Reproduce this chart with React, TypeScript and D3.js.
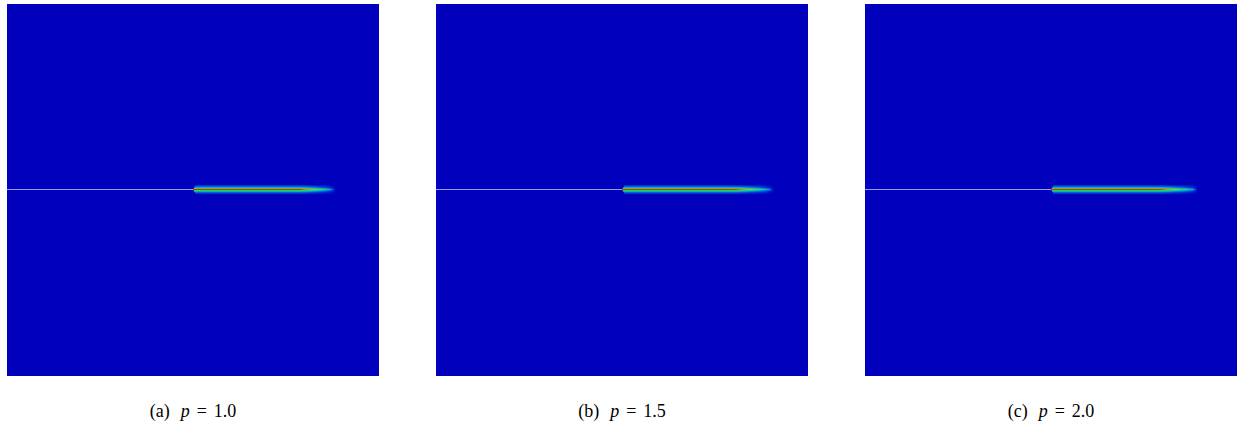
import React from "react";
import * as d3 from "d3";

// Crack-path damage profiles for three values of p.
const panelLabels = ["(a)", "(b)", "(c)"];
const pValues = [1.0, 1.5, 2.0];

// Normalised domain coordinate of the crack line and the notch tip.
const crackY = 0.498;
const notchTipX = 0.5;

// Peak damage along the crack path, sampled at the positions below.
const damageLevels = [1.0, 1.0, 0.85, 0.68, 0.5, 0.3, 0.0];
const profileA = [0.5, 0.788, 0.81, 0.833, 0.85, 0.868, 0.884];
const profileB = [0.5, 0.804, 0.828, 0.852, 0.872, 0.892, 0.908];
const profileC = [0.5, 0.793, 0.817, 0.841, 0.862, 0.882, 0.894];
const profiles = [profileA, profileB, profileC];

const W = 1239;
const H = 432;
const size = 372;
const lefts = [7, 436, 865];
const top = 4;
const rowOffsets = d3.range(-4, 5);

const colorStops = [0, 0.12, 0.28, 0.42, 0.55, 0.75, 0.9, 1];
const colorRange = ["#0000bd", "#0040d8", "#00a8e0", "#10c8a0", "#38d038", "#a8c810", "#e88000", "#d83000"];
const damageColor = d3
  .scaleLinear<string>()
  .domain(colorStops)
  .range(colorRange)
  .interpolate(d3.interpolateRgb)
  .clamp(true);

// Decay of damage away from the crack centreline (in pixels).
const falloff = (dy: number) => Math.exp(-Math.abs(dy) / 1.7);

function Panel({ idx }: { idx: number }) {
  const x = d3.scaleLinear().domain([0, 1]).range([lefts[idx], lefts[idx] + size]);
  const y = d3.scaleLinear().domain([0, 1]).range([top, top + size]);
  const prof = profiles[idx];
  const peak = d3.scaleLinear().domain(prof).range(damageLevels).clamp(true);
  const x0 = x(notchTipX);
  const x1 = x(prof[prof.length - 1]);
  const cyRow = Math.floor(y(crackY));
  const samples = d3.range(0, 1.0001, 1 / 60);
  return (
    <g>
      <rect x={x(0)} y={y(0)} width={size} height={size} fill="#0000bd" />
      <line x1={x(0)} x2={x0 + 1} y1={cyRow + 0.5} y2={cyRow + 0.5} stroke="#9c9cf4" strokeWidth={1} />
      <defs>
        {rowOffsets.map((dy) => (
          <linearGradient
            key={dy}
            id={`g${idx}_${dy + 10}`}
            gradientUnits="userSpaceOnUse"
            x1={x0}
            x2={x1}
            y1={0}
            y2={0}
          >
            {samples.map((t, k) => {
              const pos = notchTipX + t * (prof[prof.length - 1] - notchTipX);
              return <stop key={k} offset={t} stopColor={damageColor(peak(pos) * falloff(dy))} />;
            })}
          </linearGradient>
        ))}
      </defs>
      {rowOffsets.map((dy) => {
        const inset = Math.abs(dy) * 0.6;
        return (
          <rect
            key={dy}
            x={x0 + inset}
            y={cyRow + dy}
            width={x1 - x0 - inset}
            height={1}
            fill={`url(#g${idx}_${dy + 10})`}
          />
        );
      })}
      <text
        x={x(0.5)}
        y={417}
        textAnchor="middle"
        fontFamily="'Liberation Serif', 'Times New Roman', serif"
        fontSize={18}
        fill="#000"
      >
        {panelLabels[idx]}
        <tspan dx={11} fontStyle="italic">p</tspan>
        <tspan dx={7}>=</tspan>
        <tspan dx={7}>{pValues[idx].toFixed(1)}</tspan>
      </text>
    </g>
  );
}

export default function App() {
  return (
    <svg
      width={W}
      height={H}
      style={{ position: "absolute", left: 0, top: 0, background: "#fff" }}
    >
      {[0, 1, 2].map((i) => (
        <Panel key={i} idx={i} />
      ))}
    </svg>
  );
}
